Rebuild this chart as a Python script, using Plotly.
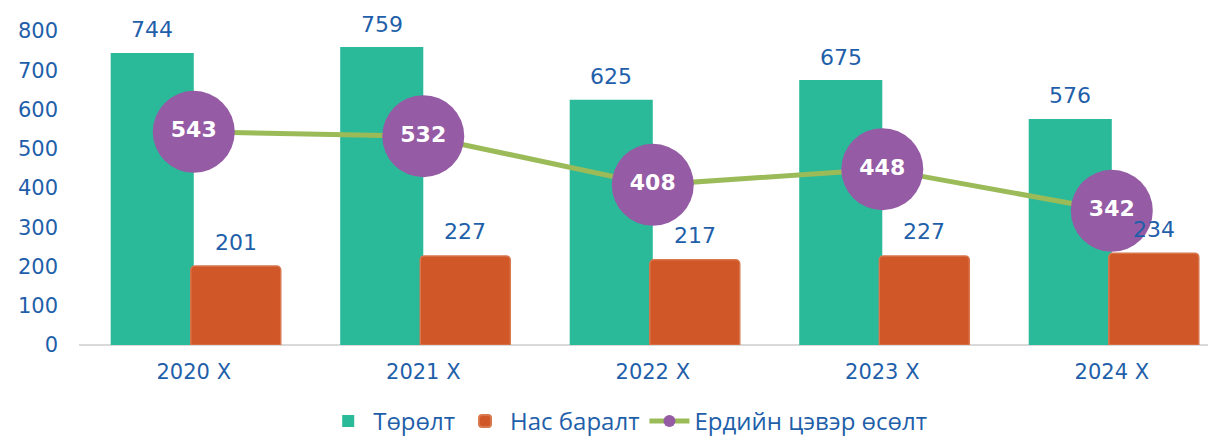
import plotly.graph_objects as go

categories = ["2020 Х", "2021 Х", "2022 Х", "2023 Х", "2024 Х"]
births = [744, 759, 625, 675, 576]
deaths = [201, 227, 217, 227, 234]
natural_growth = [543, 532, 408, 448, 342]
y_ticks = [0, 100, 200, 300, 400, 500, 600, 700, 800]
series_names = ["Төрөлт", "Нас баралт", "Ердийн цэвэр өсөлт"]

GREEN = "#2ABA9A"
ORANGE = "#D05727"
PURPLE = "#955BA5"
LINE = "#9BBB59"
BLUE = "#1F5FAA"
NUMFONT = "DejaVu Sans"

xs = list(range(len(categories)))
G_OFF, G_W = -0.362, 0.362
O_OFF, O_W = -0.013, 0.392

fig = go.Figure()
fig.add_trace(go.Bar(
    x=xs, y=births, name=series_names[0], offset=G_OFF, width=G_W,
    marker=dict(color=GREEN, line=dict(width=0)),
))
fig.add_trace(go.Bar(
    x=xs, y=deaths, name=series_names[1], offset=O_OFF, width=O_W,
    marker=dict(color=ORANGE, line=dict(color="#D8764D", width=1.5), cornerradius=4),
))
fig.add_trace(go.Scatter(
    x=xs, y=natural_growth, name=series_names[2], mode="lines+markers+text",
    line=dict(color=LINE, width=5),
    marker=dict(color=PURPLE, size=82),
    text=[str(v) for v in natural_growth], textposition="middle center",
    textfont=dict(color="white", size=22, family=NUMFONT, weight="bold"),
))

annotations = []
for i, v in enumerate(births):
    annotations.append(dict(x=i + G_OFF + G_W / 2, y=v, text=str(v), showarrow=False,
                            yshift=23, font=dict(color=BLUE, size=22, family=NUMFONT)))
for i, v in enumerate(deaths):
    annotations.append(dict(x=i + O_OFF + O_W / 2, y=v, text=str(v), showarrow=False,
                            yshift=24, font=dict(color=BLUE, size=22, family=NUMFONT)))

fig.update_layout(
    width=1208, height=433,
    margin=dict(l=71, r=0, t=23, b=96, autoexpand=False),
    plot_bgcolor="white", paper_bgcolor="white",
    barmode="overlay",
    showlegend=True,
    annotations=annotations,
    legend=dict(orientation="h", xref="container", yref="container",
                x=0.513, xanchor="center", y=0.045, yanchor="middle",
                font=dict(family="Open Sans", size=24, color=BLUE), itemsizing="constant",
                itemwidth=40, traceorder="normal"),
    xaxis=dict(range=[-0.5, 4.454], tickvals=xs, ticktext=categories, showgrid=False,
               showline=False, zeroline=False, ticks="", ticklabelstandoff=12,
               automargin=False,
               tickfont=dict(color=BLUE, size=21, family=NUMFONT)),
    yaxis=dict(range=[0, 800], tickvals=y_ticks, showgrid=False, showline=False,
               zeroline=True, zerolinecolor="#D9D9D9", zerolinewidth=2, ticks="",
               ticklabelstandoff=20, automargin=False,
               tickfont=dict(color=BLUE, size=21, family=NUMFONT)),
)

fig.write_html("out.html")
